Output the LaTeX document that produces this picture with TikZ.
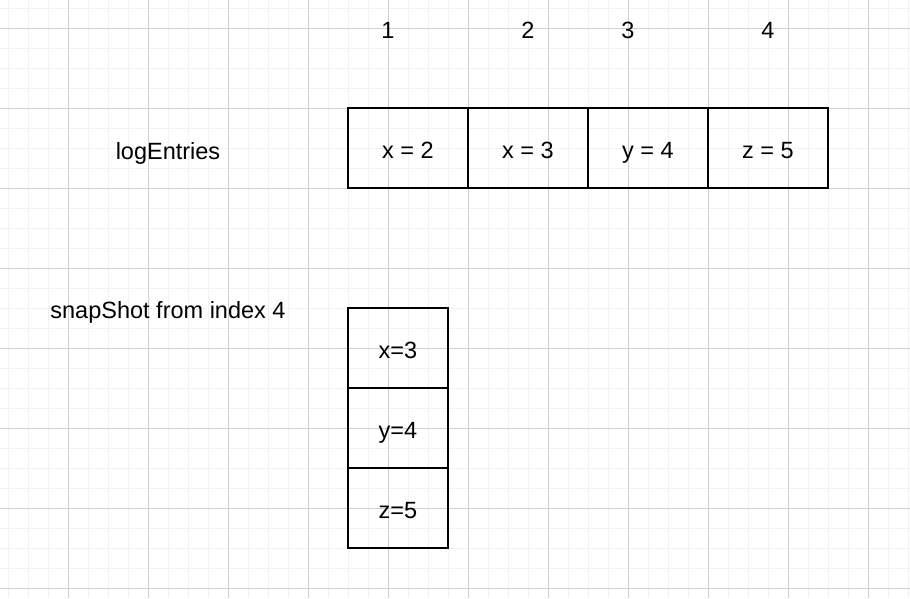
\documentclass[tikz,border=0pt]{standalone}
\usepackage{fontspec}
\setmainfont{Liberation Sans}
\usepackage{tikz}
\usetikzlibrary{positioning}

\definecolor{minorgrid}{RGB}{242,242,242}
\definecolor{majorgrid}{RGB}{208,208,208}

\begin{document}
\begin{tikzpicture}[
    x=1pt, y=-1pt,
    every node/.style={font=\fontsize{23.5}{28}\selectfont,
      text height=21.8pt, text depth=0pt},
    cell/.style={draw, line width=1.5pt, outer sep=0pt, inner sep=0pt,
      minimum width=120pt, minimum height=80pt},
    snapcell/.style={cell, minimum width=100pt}
  ]
  \useasboundingbox (0,0) rectangle (910,598);
  \fill[white] (0,0) rectangle (910,598);
  % grid
  \foreach \x in {8,28,...,908} \draw[minorgrid, line width=1pt] (\x,0) -- (\x,598);
  \foreach \y in {8,28,...,588} \draw[minorgrid, line width=1pt] (0,\y) -- (910,\y);
  \foreach \x in {68,148,...,868} \draw[majorgrid, line width=1pt] (\x,0) -- (\x,598);
  \foreach \y in {28,108,...,588} \draw[majorgrid, line width=1pt] (0,\y) -- (910,\y);

  % indices
  \node (idx1) at (388,27.5) {1};
  \node (idx2) at (528,27.5) {2};
  \node (idx3) at (628,27.5) {3};
  \node (idx4) at (768,27.5) {4};

  % log entries
  \node (logname) at (168,148.5) {logEntries};
  \node[cell] (entry1) at (408,148) {x = 2};
  \node[cell, right=0pt of entry1] (entry2) {x = 3};
  \node[cell, right=0pt of entry2] (entry3) {y = 4};
  \node[cell, right=0pt of entry3] (entry4) {z = 5};

  % snapshot
  \node (snapname) at (168,307.5) {snapShot from index 4};
  \node[snapcell] (snap1) at (398,348) {x=3};
  \node[snapcell, below=0pt of snap1] (snap2) {y=4};
  \node[snapcell, below=0pt of snap2] (snap3) {z=5};
\end{tikzpicture}
\end{document}
